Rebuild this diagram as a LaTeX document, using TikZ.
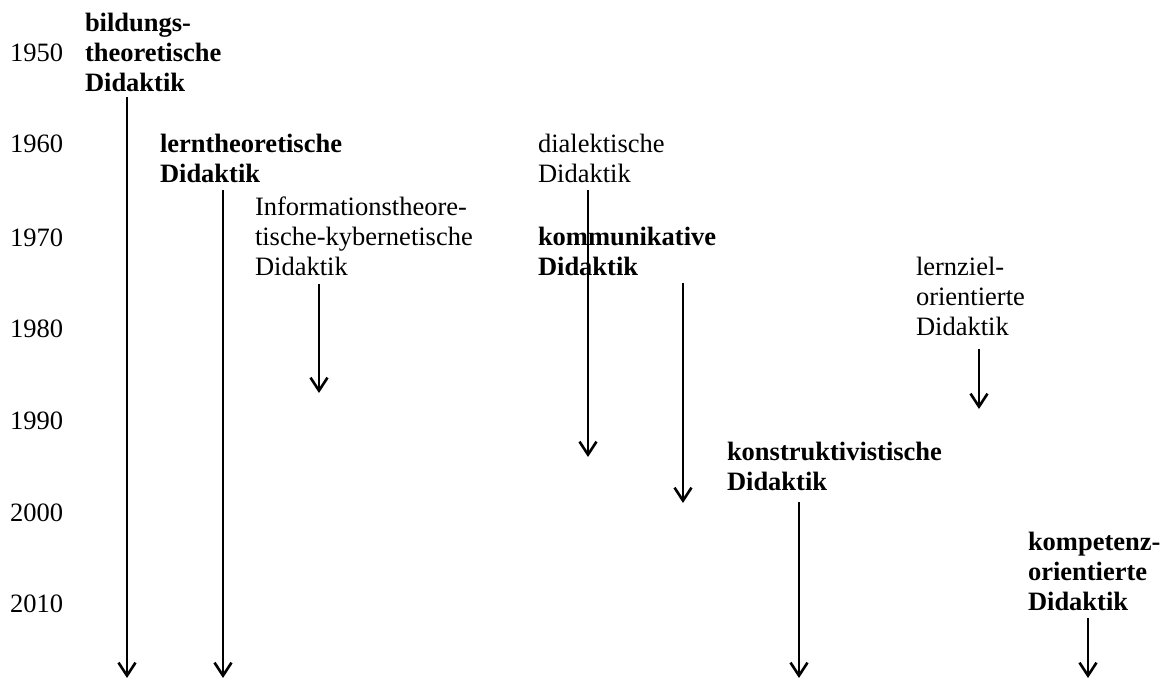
\documentclass[tikz,border=0pt]{standalone}
\usepackage{fontspec}
\setmainfont{Liberation Serif}
\usetikzlibrary{arrows.meta,calc}
\tikzset{
  lab/.style={anchor=base west, inner sep=0pt, outer sep=0pt, font=\fontsize{26.5pt}{30pt}\selectfont},
  blab/.style={lab, font=\fontsize{26.5pt}{30pt}\selectfont\bfseries},
  arr/.style={line width=2.6pt, -{Straight Barb[length=13pt,width=17pt,line width=2.6pt]}},
}
\begin{document}
\begin{tikzpicture}[x=1pt,y=-1pt]
\useasboundingbox (0,0) rectangle (1163,682);
% years
\node[lab] (y1950) at (10,62) {1950};
\node[lab] (y1960) at (10,153) {1960};
\node[lab] (y1970) at (10,246) {1970};
\node[lab] (y1980) at (10,337) {1980};
\node[lab] (y1990) at (10,429) {1990};
\node[lab] (y2000) at (10,521) {2000};
\node[lab] (y2010) at (10,612) {2010};
% labels
\node[blab] (bild) at (85,32) {\vtop{\hbox{bildungs-}\hbox{theoretische}\hbox{Didaktik}}};
\node[blab] (lern) at (160,153) {\vtop{\hbox{lerntheoretische}\hbox{Didaktik}}};
\node[lab] (info) at (255,215) {\vtop{\hbox{Informationstheore-}\hbox{tische-kybernetische}\hbox{Didaktik}}};
\node[lab] (dial) at (538,153) {\vtop{\hbox{dialektische}\hbox{Didaktik}}};
\node[blab] (komm) at (538,245) {\vtop{\hbox{kommunikative}\hbox{Didaktik}}};
\node[lab] (lzo) at (916,276) {\vtop{\hbox{lernziel-}\hbox{orientierte}\hbox{Didaktik}}};
\node[blab] (konst) at (727,460) {\vtop{\hbox{konstruktivistische}\hbox{Didaktik}}};
\node[blab] (komp) at (1028,550) {\vtop{\hbox{kompetenz-}\hbox{orientierte}\hbox{Didaktik}}};
% arrow ends
\coordinate (e1) at (127,678);
\coordinate (e2) at (223,678);
\coordinate (e3) at (319,393);
\coordinate (e4) at (588,457);
\coordinate (e5) at (683,503);
\coordinate (e6) at (979,409);
\coordinate (e7) at (799,678);
\coordinate (e8) at (1088,678);
% arrows
\draw[arr] ($(bild.south -| e1)+(0,5)$) -- (e1);
\draw[arr] ($(lern.south -| e2)+(0,7)$) -- (e2);
\draw[arr] ($(info.south -| e3)+(0,9)$) -- (e3);
\draw[arr] ($(dial.south -| e4)+(0,7)$) -- (e4);
\draw[arr] ($(komm.south -| e5)+(0,8)$) -- (e5);
\draw[arr] ($(lzo.south -| e6)+(0,13)$) -- (e6);
\draw[arr] ($(konst.south -| e7)+(0,12)$) -- (e7);
\draw[arr] ($(komp.south -| e8)+(0,8)$) -- (e8);
\end{tikzpicture}
\end{document}
